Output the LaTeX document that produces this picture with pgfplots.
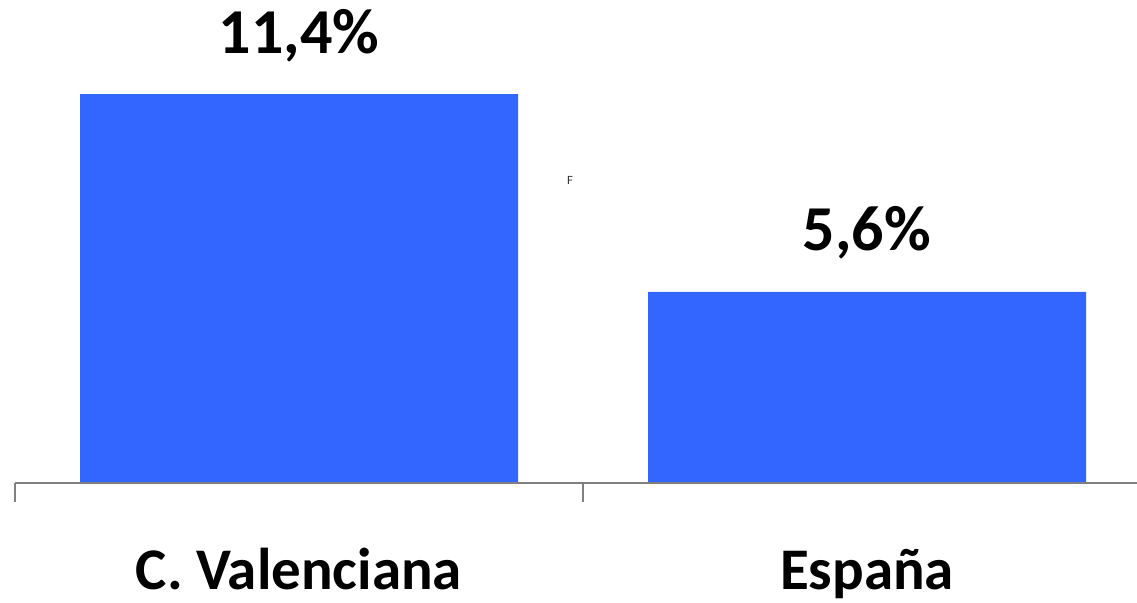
\documentclass[border=0pt]{standalone}
\usepackage{pgfplots}
\pgfplotsset{compat=1.18}
\usepackage{fontspec}
\setmainfont{Carlito}
\definecolor{barblue}{HTML}{3366FF}
\definecolor{axgray}{HTML}{7F7F7F}
\begin{document}
\begin{tikzpicture}
\useasboundingbox (0,0) rectangle (568.5pt,301.5pt);
\clip (0,0) rectangle (568.5pt,301.5pt);
\begin{axis}[
  at={(7.5pt,60pt)}, anchor=south west,
  scale only axis, width=568pt, height=241.5pt,
  xmin=-0.5, xmax=1.5, ymin=0, ymax=14.16,
  axis x line=bottom, axis y line=none,
  axis line style={axgray, line width=1pt, -},
  axis on top,
  ybar, bar width=219pt,
  xtick={0,1}, xticklabels={C. Valenciana, España},
  major tick length=0pt,
  extra x ticks={-0.5,0.5,1.5}, extra x tick labels={},
  extra x tick style={major tick length=9.5pt, tick align=outside, tick style={axgray, line width=1pt}},
  xticklabel style={font=\bfseries\fontsize{29.5}{29.5}\selectfont, anchor=base, yshift=-53.5pt},
  point meta=y,
  nodes near coords={\pgfmathprintnumber{\pgfplotspointmeta}\%},
  nodes near coords style={font=\bfseries\fontsize{32}{32}\selectfont, anchor=base, yshift=20.5pt,
    /pgf/number format/.cd, fixed, precision=1, zerofill, use comma, assume math mode=true},
]
\addplot[fill=barblue, draw=none] coordinates {(0,11.4) (1,5.6)};
\node[font=\fontsize{6.3}{6.3}\selectfont, text=black!80, anchor=base] at (axis cs:0.477,8.74) {F};
\end{axis}
\end{tikzpicture}
\end{document}
